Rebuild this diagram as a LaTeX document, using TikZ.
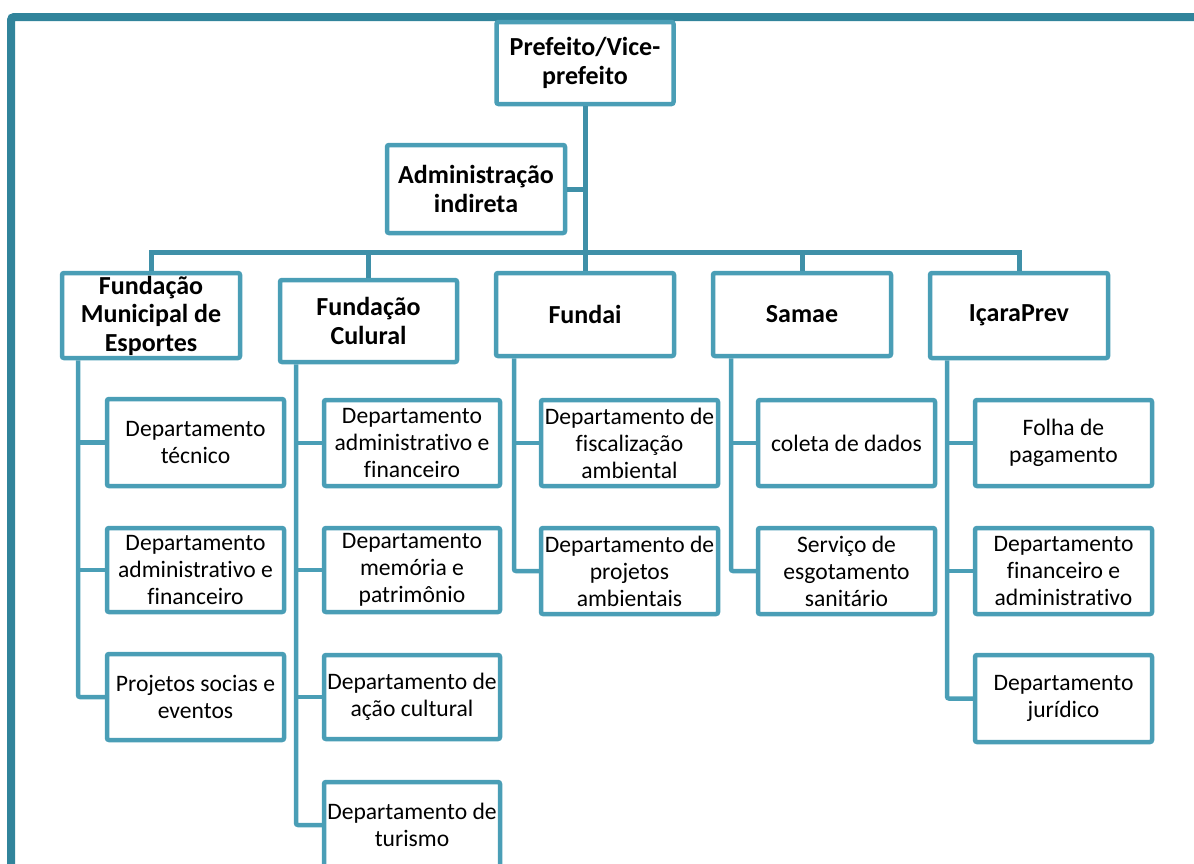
\documentclass[tikz,border=0pt]{standalone}
\usepackage{fontspec}
\setmainfont{Carlito}[Ligatures={NoCommon}]
\definecolor{framec}{HTML}{31849B}
\definecolor{boxc}{HTML}{4A9EB6}
\definecolor{connc}{HTML}{3F90A8}
\begin{document}
\begin{tikzpicture}[x=1pt,y=-1pt,
  basebox/.style={draw=boxc, line width=4.5pt, rounded corners=2pt, fill=white, align=center, inner sep=0pt, text=black},
  topbox/.style={basebox, font=\fontsize{26}{28.5}\selectfont\bfseries},
  subbox/.style={basebox, font=\fontsize{23.6}{27}\selectfont},
  conn/.style={draw=connc, line width=5pt},
  lconn/.style={draw=boxc, line width=4.5pt},
  frameline/.style={draw=framec, line width=8pt, rounded corners=3pt}]
\useasboundingbox (0,0) rectangle (1194,863);
\clip (0,0) rectangle (1194,863);
% frame
\draw[frameline] (11,870) -- (11,17) -- (1200,17);
% top level
\node[topbox, minimum width=177pt, minimum height=82pt] (top) at (585,63) {Prefeito/Vice-\\prefeito};
\node[topbox, minimum width=178pt, minimum height=88pt] (adm) at (476,189) {Administração\\indireta};
\node[topbox, minimum width=178pt, minimum height=85pt] (fme) at (151,315.5) {Fundação\\Municipal de\\Esportes};
\node[topbox, minimum width=177pt, minimum height=82pt] (fc) at (368.5,321) {Fundação\\Culural};
\node[topbox, minimum width=178pt, minimum height=83pt] (fundai) at (585,314.5) {Fundai};
\node[topbox, minimum width=178pt, minimum height=83pt] (samae) at (802,314.5) {Samae};
\node[topbox, minimum width=178pt, minimum height=85pt] (icara) at (1019,315.5) {IçaraPrev};
% column 1
\node[subbox, minimum width=177pt, minimum height=87pt] (c1a) at (195.5,442.5) {Departamento\\técnico};
\node[subbox, minimum width=177pt, minimum height=84pt] (c1b) at (195.5,570) {Departamento\\administrativo e\\financeiro};
\node[subbox, minimum width=177pt, minimum height=86pt] (c1c) at (195.5,697) {Projetos socias e\\eventos};
% column 2
\node[subbox, minimum width=176pt, minimum height=86pt] (c2a) at (412,443) {Departamento\\administrativo e\\financeiro};
\node[subbox, minimum width=176pt, minimum height=84pt] (c2b) at (412,570) {Departamento\\memória e\\patrimônio};
\node[subbox, minimum width=176pt, minimum height=84pt] (c2c) at (412,697) {Departamento de\\ação cultural};
\node[subbox, minimum width=176pt, minimum height=86pt] (c2d) at (412,825) {Departamento de\\turismo};
% column 3
\node[subbox, minimum width=177pt, minimum height=86pt] (c3a) at (629.5,443) {Departamento de\\fiscalização\\ambiental};
\node[subbox, minimum width=177pt, minimum height=86pt] (c3b) at (629.5,571) {Departamento de\\projetos\\ambientais};
% column 4
\node[subbox, minimum width=177pt, minimum height=86pt] (c4a) at (846.5,443) {coleta de dados};
\node[subbox, minimum width=177pt, minimum height=86pt] (c4b) at (846.5,571) {Serviço de\\esgotamento\\sanitário};
% column 5
\node[subbox, minimum width=177pt, minimum height=86pt] (c5a) at (1063.5,443) {Folha de\\pagamento};
\node[subbox, minimum width=177pt, minimum height=86pt] (c5b) at (1063.5,571) {Departamento\\financeiro e\\administrativo};
\node[subbox, minimum width=177pt, minimum height=87pt] (c5c) at (1063.5,698.5) {Departamento\\jurídico};
% coordinates
\coordinate (busy) at (0,252);
\coordinate (v1) at (78,0);
\coordinate (v2) at (296,0);
\coordinate (v3) at (514,0);
\coordinate (v4) at (731,0);
\coordinate (v5) at (947,0);
% upper connectors
\draw[conn] (top.south) -- (fundai.north);
\draw[conn] (adm.east) -- (adm.east -| top.south);
\draw[conn] (fme.north) -- (fme.north |- busy) -- (icara.north |- busy) -- (icara.north);
\draw[conn] (fc.north |- busy) -- (fc.north);
\draw[conn] (samae.north |- busy) -- (samae.north);
% lower connectors
\draw[lconn, rounded corners=2pt] (fme.south -| v1) |- (c1c.west);
\draw[lconn] (c1a.west -| v1) -- (c1a.west);
\draw[lconn] (c1b.west -| v1) -- (c1b.west);
\draw[lconn, rounded corners=2pt] (fc.south -| v2) |- (c2d.west);
\draw[lconn] (c2a.west -| v2) -- (c2a.west);
\draw[lconn] (c2b.west -| v2) -- (c2b.west);
\draw[lconn] (c2c.west -| v2) -- (c2c.west);
\draw[lconn, rounded corners=2pt] (fundai.south -| v3) |- (c3b.west);
\draw[lconn] (c3a.west -| v3) -- (c3a.west);
\draw[lconn, rounded corners=2pt] (samae.south -| v4) |- (c4b.west);
\draw[lconn] (c4a.west -| v4) -- (c4a.west);
\draw[lconn, rounded corners=2pt] (icara.south -| v5) |- (c5c.west);
\draw[lconn] (c5a.west -| v5) -- (c5a.west);
\draw[lconn] (c5b.west -| v5) -- (c5b.west);
\end{tikzpicture}
\end{document}
